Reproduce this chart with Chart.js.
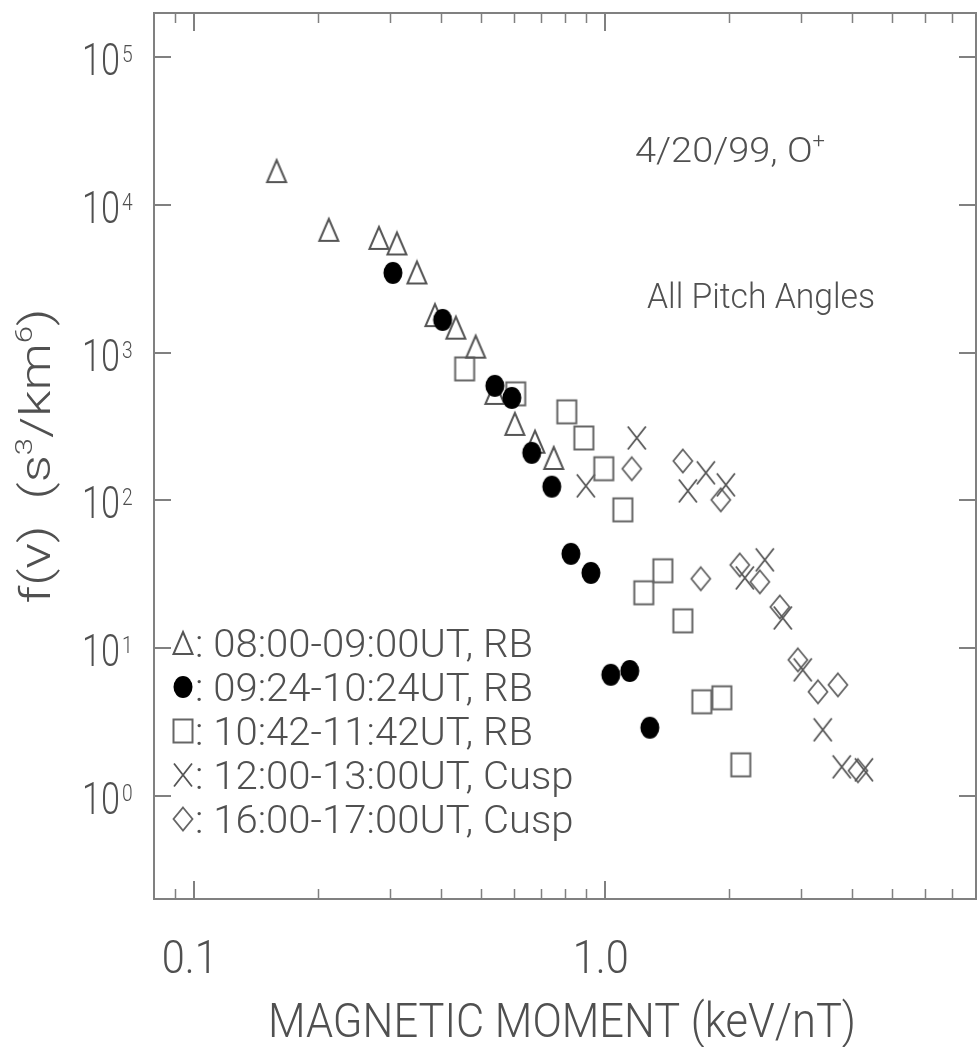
<!DOCTYPE html>
<html>
<head>
<meta charset="utf-8">
<script src="https://cdn.jsdelivr.net/npm/chart.js@4"></script>
<style>
  body { margin: 0; background: #fff; }
  canvas { display: block; }
</style>
</head>
<body>
<canvas id="chart" width="977" height="1047"></canvas>
<script>
// magnetic moment (keV/nT) and phase space density f(v) (s^3/km^6), O+ on 4/20/99
const mu0800 = [0.159, 0.213, 0.282, 0.312, 0.349, 0.386, 0.434, 0.485, 0.540, 0.604, 0.676, 0.751];
const f0800 = [17000, 6800, 6000, 5500, 3500, 1800, 1480, 1100, 535, 330, 250, 194];

const mu0924 = [0.305, 0.403, 0.540, 0.594, 0.664, 0.743, 0.827, 0.925, 1.034, 1.15, 1.287];
const f0924 = [3475, 1670, 597, 495, 210, 124, 43.5, 32.3, 6.6, 7.0, 2.89];

const mu1042 = [0.456, 0.607, 0.808, 0.889, 0.994, 1.106, 1.244, 1.384, 1.548, 1.722, 1.926, 2.142];
const f1042 = [778, 527, 398, 265, 164, 86.4, 23.7, 33.4, 15.3, 4.33, 4.61, 1.62];

const mu1200 = [0.899, 1.196, 1.592, 1.761, 1.970, 2.191, 2.450, 2.71, 3.03, 3.39, 3.77, 4.27];
const f1200 = [125.6, 265, 116, 154, 127.5, 29.9, 39.6, 16.0, 7.13, 2.80, 1.57, 1.50];

const mu1600 = [1.163, 1.548, 1.915, 1.712, 2.13, 2.383, 2.666, 2.949, 3.30, 3.69, 4.13];
const f1600 = [164, 185, 101, 29.5, 36.6, 28.1, 19.0, 8.33, 5.06, 5.64, 1.48];

const seriesLabels = [': 08:00-09:00UT, RB', ': 09:24-10:24UT, RB', ': 10:42-11:42UT, RB',
                      ': 12:00-13:00UT, Cusp', ': 16:00-17:00UT, Cusp'];

const xTickValues = [0.1, 1];
const xTickLabels = ['0.1', '1.0'];
const xMinorTicks = [0.09, 0.2, 0.3, 0.4, 0.5, 0.6, 0.7, 0.8, 0.9, 2, 3, 4, 5, 6, 7];
const yTickValues = [1, 10, 100, 1000, 10000, 100000];
const yTickExponents = ['0', '1', '2', '3', '4', '5'];

const INK = '#505050';
const FRAME = '#808080';
const font = size => `300 ${size}px Roboto, "DejaVu Sans", sans-serif`;

// plot symbols, slightly taller than wide
function sprite(draw) {
  const c = document.createElement('canvas');
  c.width = 26; c.height = 28;
  const g = c.getContext('2d');
  g.translate(13, 14);
  draw(g);
  return c;
}
const triangle = sprite(g => {
  g.beginPath(); g.moveTo(0, -11); g.lineTo(9.5, 11); g.lineTo(-9.5, 11); g.closePath();
  g.strokeStyle = '#555'; g.lineWidth = 2; g.stroke();
});
const dot = sprite(g => {
  g.beginPath(); g.ellipse(0, 0, 9.5, 11, 0, 0, Math.PI * 2);
  g.fillStyle = '#000'; g.fill();
});
const square = sprite(g => {
  g.strokeStyle = '#666'; g.lineWidth = 2; g.strokeRect(-9.5, -11.5, 19, 23);
});
const cross = sprite(g => {
  g.beginPath(); g.moveTo(-9, -11.5); g.lineTo(9, 11.5); g.moveTo(9, -11.5); g.lineTo(-9, 11.5);
  g.strokeStyle = '#555'; g.lineWidth = 1.8; g.stroke();
});
const diamond = sprite(g => {
  g.beginPath(); g.moveTo(0, -11.5); g.lineTo(9.5, 0); g.lineTo(0, 11.5); g.lineTo(-9.5, 0); g.closePath();
  g.strokeStyle = '#666'; g.lineWidth = 1.8; g.stroke();
});
const symbols = [triangle, dot, square, cross, diamond];

const points = (xs, ys) => xs.map((x, i) => ({ x, y: ys[i] }));

// text runs: [text, superscript?], squeezed horizontally to a given width or factor
function drawRuns(ctx, runs, x, y, size, opts) {
  const widths = runs.map(([t, sup]) => { ctx.font = font(sup ? size * 0.58 : size); return ctx.measureText(t).width; });
  const total = widths.reduce((a, b) => a + b, 0);
  const sx = opts.width ? opts.width / total : (opts.sx || 1);
  ctx.save();
  ctx.translate(x, y);
  ctx.scale(sx, 1);
  ctx.fillStyle = INK;
  ctx.textAlign = 'left';
  ctx.textBaseline = 'alphabetic';
  let cx = opts.align === 'center' ? -total / 2 : opts.align === 'right' ? -total : 0;
  runs.forEach(([t, sup], i) => {
    ctx.font = font(sup ? size * 0.58 : size);
    ctx.fillText(t, cx, sup ? -size * 0.42 : 0);
    cx += widths[i];
  });
  ctx.restore();
  return sx;
}

const frame = {
  id: 'frame',
  beforeDatasetsDraw(chart) {
    const { ctx, chartArea: a, scales: { x, y } } = chart;
    ctx.save();
    ctx.strokeStyle = FRAME;
    ctx.lineWidth = 2;
    ctx.strokeRect(a.left, a.top, a.right - a.left, a.bottom - a.top);
    ctx.beginPath();
    yTickValues.forEach(v => {
      const py = Math.round(y.getPixelForValue(v));
      ctx.moveTo(a.left, py); ctx.lineTo(a.left + 17, py);
      ctx.moveTo(a.right, py); ctx.lineTo(a.right - 17, py);
    });
    xTickValues.forEach(v => {
      const px = Math.round(x.getPixelForValue(v));
      ctx.moveTo(px, a.bottom); ctx.lineTo(px, a.bottom - 18);
      ctx.moveTo(px, a.top); ctx.lineTo(px, a.top + 18);
    });
    ctx.stroke();
    ctx.lineWidth = 1.5;
    ctx.beginPath();
    xMinorTicks.forEach(v => {
      const px = Math.round(x.getPixelForValue(v)) + 0.5;
      ctx.moveTo(px, a.bottom); ctx.lineTo(px, a.bottom - 10);
      ctx.moveTo(px, a.top); ctx.lineTo(px, a.top + 10);
    });
    ctx.stroke();
    ctx.restore();
  },
  afterDraw(chart) {
    const { ctx, chartArea: a, scales: { x, y } } = chart;

    yTickValues.forEach((v, i) => {
      const py = y.getPixelForValue(v);
      drawRuns(ctx, [['10']], 120, py + 18, 45, { width: 38, align: 'right' });
      drawRuns(ctx, [[yTickExponents[i]]], 122, py + 5, 24, { sx: 0.8 });
    });
    xTickValues.forEach((v, i) => {
      drawRuns(ctx, [[xTickLabels[i]]], x.getPixelForValue(v) - 4, 973, 46, { width: 56, align: 'center' });
    });

    drawRuns(ctx, [['MAGNETIC MOMENT (keV/nT)']], 562, 1037, 49, { width: 588, align: 'center' });

    ctx.save();
    ctx.translate(50, (a.top + a.bottom) / 2);
    ctx.rotate(-Math.PI / 2);
    drawRuns(ctx, [['f(v)  (s'], ['3', true], ['/km'], ['6', true], [')']], 0, 0, 42, { width: 295, align: 'center' });
    ctx.restore();

    drawRuns(ctx, [['4/20/99, O'], ['+', true]], 635, 162, 35, { width: 190 });
    drawRuns(ctx, [['All Pitch Angles']], 647, 308, 35, { width: 228 });

    // legend, lower left inside the frame
    const rows = [643, 687, 731, 775, 819];
    ctx.font = font(38);
    const sx = 338 / ctx.measureText(seriesLabels[0]).width;
    seriesLabels.forEach((label, i) => {
      ctx.drawImage(symbols[i], 183 - 13, rows[i] - 14);
      drawRuns(ctx, [[label]], 195, rows[i] + 13.5, 38, { sx });
    });
  }
};

new Chart(document.getElementById('chart'), {
  type: 'scatter',
  data: {
    datasets: [
      { label: seriesLabels[0], data: points(mu0800, f0800), pointStyle: triangle, order: 1 },
      { label: seriesLabels[1], data: points(mu0924, f0924), pointStyle: dot, order: 0 },
      { label: seriesLabels[2], data: points(mu1042, f1042), pointStyle: square, order: 1 },
      { label: seriesLabels[3], data: points(mu1200, f1200), pointStyle: cross, order: 1 },
      { label: seriesLabels[4], data: points(mu1600, f1600), pointStyle: diamond, order: 1 }
    ]
  },
  options: {
    responsive: false,
    animation: false,
    events: [],
    layout: { autoPadding: false, padding: { left: 154, top: 13, right: 1, bottom: 148 } },
    elements: { point: { radius: 10 } },
    scales: {
      x: { type: 'logarithmic', min: 0.08, max: 8, display: false },
      y: { type: 'logarithmic', min: 0.2, max: 200000, display: false }
    },
    plugins: { legend: { display: false }, tooltip: { enabled: false } }
  },
  plugins: [frame]
});
</script>
</body>
</html>
